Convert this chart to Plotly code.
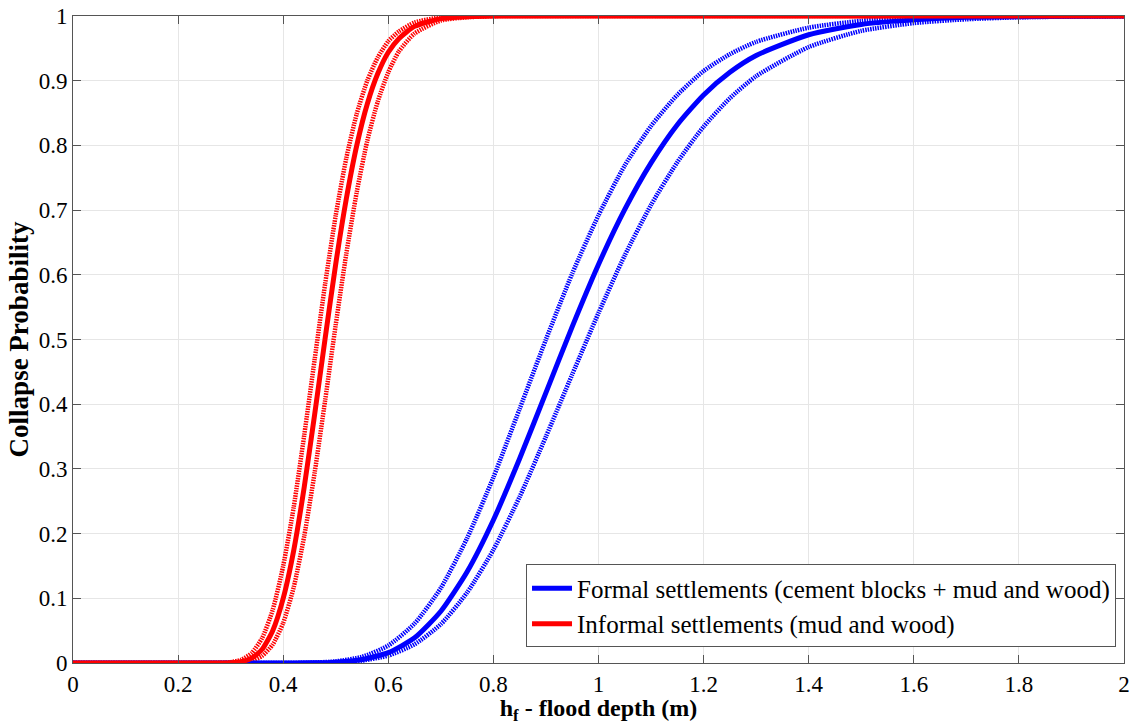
import plotly.graph_objects as go

# ---- data ----
red_x = [0.0, 0.26, 0.28, 0.30, 0.32, 0.34, 0.36, 0.38, 0.40, 0.42, 0.44, 0.46, 0.48, 0.50,
         0.52, 0.54, 0.56, 0.58, 0.60, 0.62, 0.65, 0.70, 0.75, 0.80, 1.0, 2.0]
red_mid = [0.0, 0.0, 0.0001, 0.0005, 0.0021, 0.0075, 0.0213, 0.050, 0.100, 0.174, 0.272, 0.385, 0.503, 0.617,
           0.717, 0.800, 0.864, 0.911, 0.944, 0.965, 0.984, 0.996, 0.999, 1.0, 1.0, 1.0]
red_lo = [0.0, 0.0, 0.0002, 0.0013, 0.005, 0.0154, 0.0387, 0.082, 0.150, 0.241, 0.352, 0.470, 0.587, 0.692,
          0.780, 0.849, 0.900, 0.936, 0.961, 0.976, 0.990, 0.998, 0.9995, 1.0, 1.0, 1.0]
red_hi = [0.0, 0.0, 0.0, 0.0002, 0.0009, 0.0035, 0.011, 0.0285, 0.062, 0.117, 0.196, 0.295, 0.407, 0.523,
          0.632, 0.728, 0.807, 0.868, 0.913, 0.945, 0.973, 0.993, 0.998, 0.9997, 1.0, 1.0]

blue_x = [0.0, 0.40, 0.45, 0.50, 0.55, 0.60, 0.65, 0.70, 0.75, 0.80, 0.85, 0.90, 0.95, 1.00,
          1.05, 1.10, 1.15, 1.20, 1.25, 1.30, 1.40, 1.50, 1.60, 1.70, 1.80, 1.90, 2.00]
blue_mid = [0.0, 0.0, 0.0002, 0.0013, 0.0054, 0.016, 0.039, 0.080, 0.141, 0.221, 0.316, 0.418, 0.520, 0.616,
            0.701, 0.773, 0.832, 0.878, 0.913, 0.939, 0.971, 0.987, 0.994, 0.998, 0.999, 0.9997, 1.0]
blue_lo = [0.0, 0.0, 0.0005, 0.0026, 0.0095, 0.027, 0.061, 0.116, 0.193, 0.287, 0.393, 0.500, 0.602, 0.692,
           0.769, 0.830, 0.878, 0.915, 0.941, 0.960, 0.982, 0.9925, 0.997, 0.9988, 0.9995, 0.9998, 1.0]
blue_hi = [0.0, 0.0, 0.0001, 0.0009, 0.0037, 0.0115, 0.029, 0.060, 0.109, 0.175, 0.257, 0.350, 0.446, 0.541,
           0.630, 0.708, 0.774, 0.829, 0.873, 0.907, 0.952, 0.977, 0.989, 0.995, 0.998, 0.999, 0.9996]

x_ticks = [0, 0.2, 0.4, 0.6, 0.8, 1.0, 1.2, 1.4, 1.6, 1.8, 2.0]
x_tick_text = ["0", "0.2", "0.4", "0.6", "0.8", "1", "1.2", "1.4", "1.6", "1.8", "2"]
y_ticks = [0, 0.1, 0.2, 0.3, 0.4, 0.5, 0.6, 0.7, 0.8, 0.9, 1.0]
y_tick_text = ["0", "0.1", "0.2", "0.3", "0.4", "0.5", "0.6", "0.7", "0.8", "0.9", "1"]

BLUE = "rgb(0,0,255)"
RED = "rgb(255,0,0)"
DOT = "1.5px,1px"
FONT = "Times New Roman, Liberation Serif, serif"

fig = go.Figure()

def add(x, y, color, dotted, name=None, show=False):
    fig.add_trace(go.Scatter(
        x=x, y=y, mode="lines", name=name, showlegend=show,
        line=dict(color=color, width=4.5 if dotted else 5,
                  dash=DOT if dotted else "solid", shape="spline", smoothing=0.6),
        cliponaxis=False, hoverinfo="skip"))

add(blue_x, blue_lo, BLUE, True)
add(blue_x, blue_hi, BLUE, True)
add(red_x, red_lo, RED, True)
add(red_x, red_hi, RED, True)
add(blue_x, blue_mid, BLUE, False, "Formal settlements (cement blocks + mud and wood)", True)
add(red_x, red_mid, RED, False, "Informal settlements (mud and wood)", True)

axis_common = dict(
    showline=True, linecolor="#555555", linewidth=1, mirror="ticks",
    ticks="inside", ticklen=8, tickcolor="#555555",
    showgrid=True, gridcolor="#e6e6e6", gridwidth=1, zeroline=False,
    tickfont=dict(family=FONT, size=23, color="black"),
    automargin=False, ticklabeloverflow="allow",
)

fig.update_xaxes(range=[0, 2], tickvals=x_ticks, ticktext=x_tick_text,
                 title=dict(text="<b>h<sub>f</sub> - flood depth (m)</b>",
                            font=dict(family=FONT, size=24, color="black"), standoff=0),
                 **axis_common)
fig.update_yaxes(range=[0, 1], tickvals=y_ticks, ticktext=y_tick_text,
                 title=dict(text="<b>Collapse Probability</b>",
                            font=dict(family=FONT, size=27, color="black"), standoff=2),
                 **axis_common)

fig.update_layout(
    width=1132, height=725,
    margin=dict(l=73, r=8, t=16, b=62),
    paper_bgcolor="white", plot_bgcolor="white",
    font=dict(family=FONT, color="black"),
    legend=dict(x=0.9924, y=0.024, xanchor="right", yanchor="bottom",
                bgcolor="white", bordercolor="#555555", borderwidth=1,
                font=dict(family=FONT, size=25, color="black"),
                itemwidth=40, tracegroupgap=0),
)

fig.write_html("out.html",
               config={"displayModeBar": False},
               post_script="document.body.style.margin='0';document.body.style.overflow='hidden';")
